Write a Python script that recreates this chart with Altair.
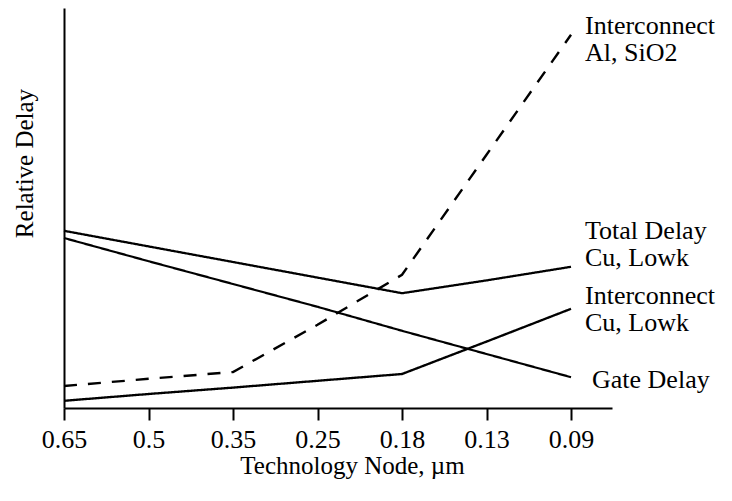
import altair as alt
import pandas as pd

nodes = ["0.65", "0.5", "0.35", "0.25", "0.18", "0.13", "0.09"]
gate_delay = [42.5, 36.7, 31.0, 25.3, 19.3, 13.5, 7.7]
total_delay = [44.3, 40.4, 36.5, 32.6, 28.7, 31.9, 35.3]
inter_cu = [1.8, 3.5, 5.1, 6.8, 8.5, 16.6, 24.8]
inter_al = [5.5, 7.3, 9.0, 20.8, 33.3, 63.3, 93.3]

series_names = ["Gate Delay", "Total Delay", "Interconnect Cu", "Interconnect Al"]
series_vals = [gate_delay, total_delay, inter_cu, inter_al]

label_lines = ["Interconnect", "Al, SiO2", "Total Delay", "Cu, Lowk",
               "Interconnect", "Cu, Lowk", "Gate Delay"]
label_vals = [95.5, 88.7, 44.3, 37.5, 28.0, 21.3, 7.0]
label_group = ["a", "a", "a", "a", "a", "a", "b"]

FONT = "Liberation Serif"

rows = []
for name, vals in zip(series_names, series_vals):
    for i, v in enumerate(vals):
        rows.append({"idx": i, "val": v, "series": name})
df = pd.DataFrame(rows)

lab = pd.DataFrame({"idx": [len(nodes) - 1] * len(label_lines),
                    "val": label_vals, "text": label_lines, "grp": label_group})

label_expr = "[" + ",".join("'%s'" % n for n in nodes) + "][datum.value]"

xscale = alt.Scale(domain=[0, 6.485], nice=False, zero=False)
yscale = alt.Scale(domain=[0, 100], nice=False, zero=False)

x_axis = alt.Axis(values=list(range(len(nodes))), labelExpr=label_expr,
                  grid=False, domainColor="black", domainWidth=2,
                  tickColor="black", tickWidth=2, tickSize=12,
                  labelFont=FONT, labelFontSize=26, labelColor="black",
                  labelPadding=6, labelFlush=False, labelOverlap=False,
                  title="Technology Node, µm", titleFont=FONT, titleFontSize=25,
                  titleFontWeight="normal", titleColor="black",
                  titleBaseline="middle", titleAlign="center",
                  titleX=288, titleY=57)
y_axis = alt.Axis(grid=False, ticks=False, labels=False, domainColor="black",
                  domainWidth=2, title="Relative Delay", titleFont=FONT,
                  titleFontSize=25, titleFontWeight="normal", titleColor="black",
                  titleAngle=270, titleBaseline="middle", titleAlign="center",
                  titleX=-40, titleY=155)

lines = alt.Chart(df).mark_line(color="black", strokeCap="butt").encode(
    x=alt.X("idx:Q", scale=xscale, axis=x_axis),
    y=alt.Y("val:Q", scale=yscale, axis=y_axis),
    detail="series:N",
    strokeDash=alt.StrokeDash("series:N", legend=None,
                              scale=alt.Scale(domain=series_names,
                                              range=[[1, 0], [1, 0], [1, 0], [13, 11]])),
    strokeWidth=alt.StrokeWidth("series:N", legend=None,
                                scale=alt.Scale(domain=series_names,
                                                range=[2.2, 2.4, 3.0, 2.8])),
)

def label_layer(grp, dx):
    return alt.Chart(lab).transform_filter(alt.datum.grp == grp).mark_text(
        align="left", baseline="middle", font=FONT, fontSize=26,
        color="black", dx=dx).encode(
        x=alt.X("idx:Q", scale=xscale),
        y=alt.Y("val:Q", scale=yscale),
        text="text:N",
    )

chart = alt.layer(lines, label_layer("a", 14), label_layer("b", 21)).properties(
    width=548, height=400,
    autosize=alt.AutoSizeParams(type="none"),
    padding={"left": 56, "top": 0, "right": 112, "bottom": 85},
    background="white",
).configure_view(stroke=None).configure_text(font=FONT).configure_axis(
    labelFont=FONT, titleFont=FONT)

chart.save("out.html", embed_options={"renderer": "svg", "actions": False})
